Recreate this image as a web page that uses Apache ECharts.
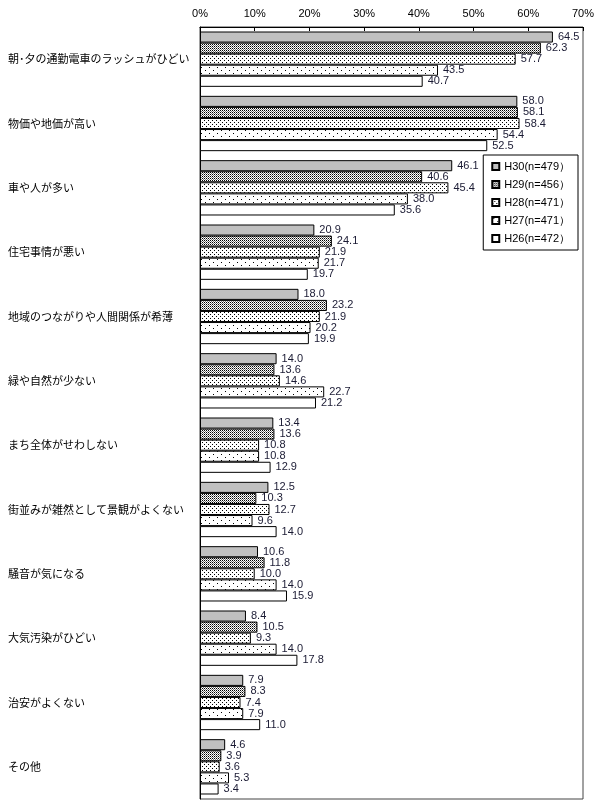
<!DOCTYPE html>
<html><head><meta charset="utf-8">
<script src="https://cdn.jsdelivr.net/npm/echarts@6/dist/echarts.min.js"></script>
<style>html,body{margin:0;padding:0;background:#fff}#c{width:600px;height:810px}</style>
</head><body><div id="c"></div>
<script>
const categories = ['朝･夕の通勤電車のラッシュがひどい','物価や地価が高い','車や人が多い','住宅事情が悪い','地域のつながりや人間関係が希薄','緑や自然が少ない','まち全体がせわしない','街並みが雑然として景観がよくない','騒音が気になる','大気汚染がひどい','治安がよくない','その他'];
const seriesNames = ['H30(n=479）','H29(n=456）','H28(n=471）','H27(n=471）','H26(n=472）'];
const h30 = [64.5,58.0,46.1,20.9,18.0,14.0,13.4,12.5,10.6,8.4,7.9,4.6];
const h29 = [62.3,58.1,40.6,24.1,23.2,13.6,13.6,10.3,11.8,10.5,8.3,3.9];
const h28 = [57.7,58.4,45.4,21.9,21.9,14.6,10.8,12.7,10.0,9.3,7.4,3.6];
const h27 = [43.5,54.4,38.0,21.7,20.2,22.7,10.8,9.6,14.0,14.0,7.9,5.3];
const h26 = [40.7,52.5,35.6,19.7,19.9,21.2,12.9,14.0,15.9,17.8,11.0,3.4];
const xTicks = [0,10,20,30,40,50,60,70];

function pattern(w,h,pts,bg){
  const c=document.createElement('canvas');c.width=w;c.height=h;
  const g=c.getContext('2d');g.fillStyle=bg;g.fillRect(0,0,w,h);
  pts.forEach(p=>{g.fillStyle=p[2]||'#000';g.fillRect(p[0],p[1],1,1);});
  return {image:c,repeat:'repeat'};
}
const fills = [
  '#c0c0c0',
  pattern(2,2,[[0,0],[1,1,'#777']],'#fff'),
  pattern(4,4,[[0,0],[2,2]],'#fff'),
  pattern(8,6,[[1,1],[5,4]],'#fff'),
  '#ffffff'
];
const dataSets=[h30,h29,h28,h27,h26];
const chart=echarts.init(document.getElementById('c'),null,{renderer:'canvas'});
chart.setOption({
  animation:false,
  backgroundColor:'#fff',
  grid:{left:200,right:17,top:27,bottom:11,show:true,borderColor:'#444',borderWidth:1},
  legend:{
    orient:'vertical',right:22,top:155,
    data:seriesNames,
    itemWidth:7,itemHeight:7,itemGap:7,
    padding:[6,8,6,8],
    borderColor:'#000',borderWidth:1,backgroundColor:'#fff',
    textStyle:{fontSize:11,color:'#000',fontFamily:'Liberation Sans, Arial'},
    icon:'rect',z:10
  },
  xAxis:{
    type:'value',position:'top',min:xTicks[0],max:xTicks[xTicks.length-1],interval:10,
    axisLine:{show:true,lineStyle:{color:'#000'}},
    axisTick:{show:true,inside:true,length:4,lineStyle:{color:'#000'}},
    splitLine:{show:false},
    axisLabel:{formatter:'{value}%',fontSize:11,color:'#000',margin:8,fontFamily:'Liberation Sans, Arial'}
  },
  yAxis:{
    type:'category',inverse:true,data:categories,
    axisLine:{show:true,lineStyle:{color:'#000'}},
    axisTick:{show:false},
    axisLabel:{align:'left',margin:192,fontSize:11,color:'#000',fontFamily:'Noto Sans CJK JP'}
  },
  series:dataSets.map((d,i)=>({
    name:seriesNames[i],type:'bar',data:d,
    barGap:'0%',barCategoryGap:'14%',
    itemStyle:{color:fills[i],borderColor:'#000',borderWidth:1},
    label:{show:true,position:'right',distance:5,fontSize:11,color:'#1a1a33',fontFamily:'Liberation Sans, Arial',formatter:p=>p.value.toFixed(1)}
  }))
});
</script></body></html>
